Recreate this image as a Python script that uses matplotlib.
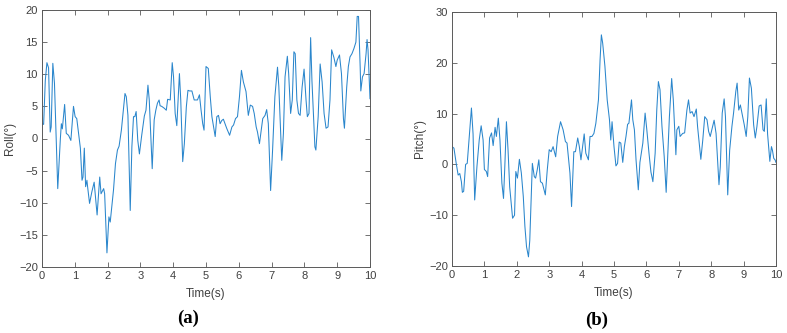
import matplotlib
matplotlib.use("Agg")
import matplotlib.pyplot as plt

# ---- Roll data (time s, angle deg) ----
roll_t = [0.00, 0.05, 0.10, 0.15, 0.20, 0.25, 0.28, 0.33, 0.38, 0.48, 0.56, 0.59, 0.62, 0.69, 0.74,
          0.81, 0.88, 0.96, 1.01, 1.06, 1.17, 1.22, 1.25, 1.29, 1.33, 1.37, 1.39, 1.45, 1.52, 1.59,
          1.68, 1.76, 1.80, 1.88, 1.91, 1.98, 2.04, 2.08, 2.18, 2.24, 2.30, 2.35, 2.42, 2.45, 2.53,
          2.57, 2.62, 2.69, 2.74, 2.79, 2.83, 2.87, 2.92, 2.97, 3.04, 3.12, 3.17, 3.23, 3.27, 3.36,
          3.42, 3.47, 3.52, 3.57, 3.60, 3.65, 3.73, 3.79, 3.83, 3.91, 3.97, 4.01, 4.06, 4.11, 4.19,
          4.23, 4.29, 4.34, 4.40, 4.45, 4.50, 4.57, 4.64, 4.74, 4.80, 4.85, 4.90, 4.94, 5.00, 5.07,
          5.13, 5.18, 5.23, 5.28, 5.33, 5.38, 5.43, 5.48, 5.53, 5.58, 5.63, 5.72, 5.79, 5.84, 5.90,
          5.96, 6.02, 6.08, 6.14, 6.22, 6.29, 6.35, 6.42, 6.47, 6.53, 6.57, 6.63, 6.67, 6.73, 6.80,
          6.85, 6.90, 6.97, 7.03, 7.10, 7.18, 7.22, 7.31, 7.36, 7.41, 7.48, 7.52, 7.58, 7.63, 7.68,
          7.72, 7.77, 7.82, 7.87, 7.93, 7.99, 8.05, 8.09, 8.14, 8.19, 8.23, 8.32, 8.35, 8.42, 8.48,
          8.54, 8.60, 8.66, 8.72, 8.78, 8.83, 8.90, 8.96, 9.00, 9.07, 9.13, 9.19, 9.22, 9.29, 9.34,
          9.39, 9.45, 9.51, 9.57, 9.61, 9.65, 9.70, 9.72, 9.77, 9.82, 9.88, 9.91, 9.94, 10.00]
roll_v = [2.3, 2.2, 9.0, 11.8, 11.0, 1.0, 1.8, 11.7, 8.6, -7.8, 0.0, 2.3, 1.5, 5.3, 0.8,
          0.5, -0.3, 5.0, 3.4, 3.1, -1.5, -6.5, -6.0, -1.5, -7.5, -6.5, -7.5, -10.1, -8.3, -6.8,
          -11.9, -6.0, -8.6, -7.8, -8.6, -17.8, -12.2, -13.0, -8.0, -3.9, -1.8, -1.2, 1.3, 2.9, 7.0,
          6.5, 3.6, -11.2, -1.3, 3.4, 3.4, 4.2, -0.3, -2.4, 0.5, 3.5, 4.4, 8.3, 6.0, -4.7,
          2.9, 4.4, 5.5, 6.0, 5.1, 5.0, 4.7, 4.4, 6.1, 6.0, 11.8, 9.6, 3.9, 2.0, 10.1,
          6.0, -3.6, -0.8, 4.9, 7.5, 7.4, 7.4, 6.0, 6.0, 6.8, 4.4, 2.3, 1.3, 11.2, 10.9,
          6.5, 3.4, 1.8, 0.3, 3.4, 3.6, 2.3, 2.8, 3.0, 2.3, 1.6, 0.5, 1.8, 2.1, 3.1,
          3.4, 6.5, 10.6, 8.8, 7.3, 3.6, 5.2, 5.0, 3.9, 1.8, 1.0, -0.8, 0.8, 3.1, 3.6,
          4.5, 2.3, -8.1, -1.8, 6.5, 11.1, 8.1, -3.4, 0.8, 9.6, 12.8, 10.1, 3.9, 6.0, 13.5,
          13.2, 6.0, 3.9, 3.6, 8.0, 10.8, 6.0, 3.4, 3.9, 15.7, 9.0, -1.3, -1.8, 3.4, 11.6,
          8.8, 3.9, 1.6, 1.8, 6.0, 13.8, 12.6, 11.2, 12.2, 13.0, 10.1, 3.1, 1.6, 8.0, 11.2,
          12.7, 13.2, 14.0, 15.0, 19.0, 19.0, 11.2, 7.4, 9.6, 10.1, 13.2, 15.4, 13.8, 6.2]

# ---- Pitch data (time s, angle deg) ----
pitch_t = [0.00, 0.06, 0.13, 0.19, 0.24, 0.29, 0.32, 0.36, 0.42, 0.47, 0.55, 0.60, 0.65, 0.70, 0.77,
           0.84, 0.90, 0.96, 1.00, 1.06, 1.10, 1.16, 1.22, 1.27, 1.33, 1.37, 1.43, 1.48, 1.54, 1.59,
           1.63, 1.68, 1.73, 1.78, 1.87, 1.93, 1.97, 2.02, 2.08, 2.14, 2.20, 2.25, 2.30, 2.36, 2.40,
           2.48, 2.54, 2.58, 2.63, 2.68, 2.73, 2.79, 2.88, 2.94, 3.00, 3.06, 3.12, 3.20, 3.26, 3.35,
           3.43, 3.50, 3.55, 3.64, 3.69, 3.76, 3.81, 3.88, 3.93, 3.98, 4.03, 4.08, 4.13, 4.21, 4.26,
           4.32, 4.38, 4.44, 4.52, 4.57, 4.61, 4.65, 4.72, 4.79, 4.86, 4.90, 4.94, 5.00, 5.06, 5.11,
           5.16, 5.21, 5.27, 5.32, 5.37, 5.42, 5.46, 5.54, 5.58, 5.63, 5.68, 5.75, 5.80, 5.89, 5.96,
           6.01, 6.08, 6.14, 6.20, 6.27, 6.32, 6.37, 6.42, 6.48, 6.55, 6.61, 6.65, 6.71, 6.78, 6.83,
           6.91, 6.94, 7.00, 7.04, 7.12, 7.18, 7.25, 7.30, 7.35, 7.41, 7.47, 7.54, 7.58, 7.62, 7.68,
           7.74, 7.80, 7.87, 7.92, 7.97, 8.03, 8.09, 8.15, 8.19, 8.24, 8.28, 8.34, 8.40, 8.44, 8.51,
           8.57, 8.64, 8.69, 8.76, 8.80, 8.85, 8.90, 8.96, 9.02, 9.08, 9.13, 9.18, 9.24, 9.31, 9.36,
           9.41, 9.48, 9.54, 9.60, 9.64, 9.70, 9.74, 9.81, 9.86, 9.89, 9.93, 9.97, 10.00]
pitch_v = [3.5, 3.2, 0.2, -2.1, -1.8, -3.4, -5.5, -5.3, 0.0, 0.2, 6.8, 11.1, 6.0, -7.0, -0.4,
           4.8, 7.6, 4.8, -1.0, -1.4, -2.4, 5.2, 6.2, 3.7, 7.3, 5.5, 9.1, 4.8, -3.7, -6.7,
           -0.4, 8.4, 2.8, -4.4, -10.6, -10.0, -1.4, -2.7, 1.0, -1.7, -6.3, -12.2, -16.2, -18.2, -15.0,
           0.2, -2.4, -2.7, -1.1, 0.9, -3.4, -3.7, -6.0, -1.1, 2.9, 2.5, 3.5, 1.5, 5.5, 8.4,
           6.8, 4.5, 4.2, -1.7, -8.3, 2.5, 2.5, 5.2, 3.5, 0.9, 3.5, 6.0, 2.2, 0.9, 5.5,
           5.5, 6.1, 8.1, 12.7, 20.6, 25.5, 23.9, 19.3, 12.7, 8.8, 4.8, 8.4, 3.5, -0.3, 0.2,
           4.4, 4.2, 0.4, 3.5, 5.5, 7.9, 8.1, 12.7, 8.8, 6.8, 0.9, -5.0, 0.4, 4.2, 10.1,
           7.0, 2.2, -1.5, -3.4, 2.2, 10.7, 16.3, 14.7, 7.5, 1.5, -5.5, 0.4, 9.4, 16.9, 12.7,
           1.9, 6.8, 7.5, 5.5, 6.1, 6.2, 10.7, 12.7, 10.1, 10.4, 9.4, 10.9, 7.4, 4.8, 1.0,
           4.8, 9.4, 8.8, 6.5, 5.5, 7.1, 8.7, 6.1, 1.5, -4.0, -0.5, 10.1, 12.9, 9.4, -6.0,
           2.8, 7.5, 10.1, 14.4, 16.0, 10.7, 11.7, 9.8, 7.8, 5.5, 9.4, 17.0, 15.0, 7.8, 5.2,
           7.4, 11.5, 11.7, 6.8, 6.5, 12.9, 6.0, 0.6, 3.5, 2.8, 1.2, 0.9, 0.4]

roll_yticks = [-20, -15, -10, -5, 0, 5, 10, 15, 20]
pitch_yticks = [-20, -10, 0, 10, 20, 30]
xticks = list(range(0, 11))

LINE = "#2a86cc"
AX = "#5a5a5a"
TXT = "#404040"

plt.rcParams['font.family'] = ['Liberation Sans', 'DejaVu Sans']

fig = plt.figure(figsize=(7.87, 3.33), dpi=100)
ax1 = fig.add_axes([42/787, 1-267/333, 328/787, 257/333])
ax2 = fig.add_axes([452/787, 1-266/333, 324/787, 254/333])

def style(ax, yticks, ylim):
    ax.set_xlim(0, 10)
    ax.set_ylim(*ylim)
    ax.set_xticks(xticks)
    ax.set_yticks(yticks)
    ax.set_yticklabels([("\u2212" + str(-v)) if v < 0 else str(v) for v in yticks])
    ax.tick_params(direction='in', top=True, right=True, length=3.5, width=0.6,
                   colors=AX, labelsize=8, labelcolor=TXT, pad=3)
    for s in ax.spines.values():
        s.set_color(AX)
        s.set_linewidth(0.7)

ax1.plot(roll_t, roll_v, color=LINE, lw=0.75)
style(ax1, roll_yticks, (-20, 20))
ax1.set_xlabel("Time(s)", fontsize=8.5, color=TXT, labelpad=5)
ax1.set_ylabel("Roll(°)", fontsize=8.5, color=TXT, labelpad=2)

ax2.plot(pitch_t, pitch_v, color=LINE, lw=0.75)
style(ax2, pitch_yticks, (-20, 30))
ax2.set_xlabel("Time(s)", fontsize=8.5, color=TXT, labelpad=5)
ax2.set_ylabel("Pitch(°)", fontsize=8.5, color=TXT, labelpad=2)

fig.text(188/787, 1-318/333, "(a)", ha='center', va='center', fontsize=13.5,
         fontweight='bold', family=['Liberation Serif', 'DejaVu Serif'], color='black')
fig.text(597/787, 1-320/333, "(b)", ha='center', va='center', fontsize=13.5,
         fontweight='bold', family=['Liberation Serif', 'DejaVu Serif'], color='black')

fig.savefig("out.png", dpi=100, facecolor='white')
